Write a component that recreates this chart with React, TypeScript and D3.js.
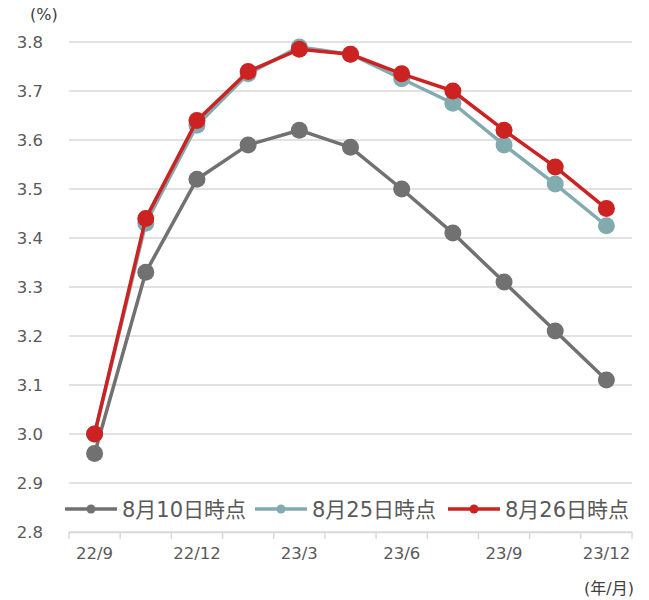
import React, { useEffect, useRef } from "react";
import * as d3 from "d3";

// 政策会合ごとの予想金利 (%)
const months = ["22/9", "22/11", "22/12", "23/2", "23/3", "23/5", "23/6", "23/7", "23/9", "23/11", "23/12"];
const shownLabels = ["22/9", "22/12", "23/3", "23/6", "23/9", "23/12"];
const seriesNames = ["8月10日時点", "8月25日時点", "8月26日時点"];
const aug10 = [2.96, 3.33, 3.52, 3.59, 3.62, 3.585, 3.50, 3.41, 3.31, 3.21, 3.11];
const aug25 = [3.00, 3.43, 3.63, 3.735, 3.79, 3.775, 3.725, 3.675, 3.59, 3.51, 3.425];
const aug26 = [3.00, 3.44, 3.64, 3.74, 3.785, 3.775, 3.735, 3.70, 3.62, 3.545, 3.46];
const yTicks = [2.8, 2.9, 3.0, 3.1, 3.2, 3.3, 3.4, 3.5, 3.6, 3.7, 3.8];
const colors = ["#717171", "#82abb0", "#cc2222"];

const FONT = "'DejaVu Sans', 'Noto Sans CJK JP', sans-serif";

const App = () => {
  const ref = useRef<SVGSVGElement>(null);

  useEffect(() => {
    const width = 649;
    const height = 600;
    const margin = { top: 42, left: 69, bottom: 68, right: 17 };

    const svg = d3.select(ref.current);
    svg.selectAll("*").remove();
    svg.attr("width", width).attr("height", height);

    const x = d3
      .scaleBand()
      .domain(months)
      .range([margin.left, width - margin.right]);

    const y = d3
      .scaleLinear()
      .domain([2.8, 3.8])
      .range([height - margin.bottom, margin.top]);

    // 横グリッド
    svg
      .append("g")
      .selectAll("line")
      .data(yTicks)
      .enter()
      .append("line")
      .attr("x1", margin.left)
      .attr("x2", width - margin.right)
      .attr("y1", (d) => y(d))
      .attr("y2", (d) => y(d))
      .attr("stroke", "#d9d9d9")
      .attr("stroke-width", 1.5);

    // y軸ラベル
    svg
      .append("g")
      .selectAll("text")
      .data(yTicks)
      .enter()
      .append("text")
      .attr("x", 43)
      .attr("y", (d) => y(d))
      .attr("dy", "0.36em")
      .attr("text-anchor", "end")
      .attr("font-family", FONT)
      .attr("font-size", 16.5)
      .attr("fill", "#595959")
      .text((d) => d.toFixed(1));

    // x軸
    const xAxis = (g: any) =>
      g
        .attr("transform", `translate(0, ${y(2.8)})`)
        .call(
          d3
            .axisBottom(x)
            .tickValues(shownLabels)
            .tickSize(0)
            .tickPadding(15)
        )
        .call((g: any) => g.select(".domain").attr("stroke", "#d9d9d9").attr("stroke-width", 1.5))
        .call((g: any) =>
          g
            .selectAll("text")
            .attr("font-family", FONT)
            .attr("font-size", 16.5)
            .attr("fill", "#595959")
        );
    svg.append("g").call(xAxis);

    // 区切りの目盛り
    const bounds = months.map((m) => x(m) as number).concat([width - margin.right]);
    svg
      .append("g")
      .selectAll("line")
      .data(bounds)
      .enter()
      .append("line")
      .attr("x1", (d) => d)
      .attr("x2", (d) => d)
      .attr("y1", y(2.8))
      .attr("y2", y(2.8) + 7)
      .attr("stroke", "#d9d9d9")
      .attr("stroke-width", 1.5);

    // 折れ線
    const allSeries = [aug10, aug25, aug26];
    const line = d3
      .line<number>()
      .x((d, i) => (x(months[i]) as number) + x.bandwidth() / 2)
      .y((d) => y(d));

    allSeries.forEach((values, k) => {
      const g = svg.append("g");
      g.append("path")
        .attr("d", line(values))
        .attr("fill", "none")
        .attr("stroke", colors[k])
        .attr("stroke-width", 3.5)
        .attr("stroke-linejoin", "round");
      g.selectAll("circle")
        .data(values)
        .enter()
        .append("circle")
        .attr("cx", (d, i) => (x(months[i]) as number) + x.bandwidth() / 2)
        .attr("cy", (d) => y(d))
        .attr("r", 8.5)
        .attr("fill", colors[k]);
    });

    // 凡例
    const legendX = [65, 255, 448];
    const legend = svg
      .append("g")
      .selectAll("g")
      .data(seriesNames)
      .enter()
      .append("g")
      .attr("transform", (d, i) => `translate(${legendX[i]}, 509)`);
    legend
      .append("line")
      .attr("x1", 0)
      .attr("x2", 52)
      .attr("stroke", (d, i) => colors[i])
      .attr("stroke-width", 3.5);
    legend
      .append("circle")
      .attr("cx", 26)
      .attr("r", 4.5)
      .attr("fill", (d, i) => colors[i]);
    legend
      .append("text")
      .attr("x", 57)
      .attr("dy", "0.36em")
      .attr("font-family", FONT)
      .attr("font-size", 21)
      .attr("fill", "#595959")
      .text((d) => d);

    // 単位
    svg
      .append("text")
      .attr("x", 30)
      .attr("y", 20)
      .attr("font-family", FONT)
      .attr("font-size", 16)
      .attr("fill", "#404040")
      .text("(%)");
    svg
      .append("text")
      .attr("x", 634)
      .attr("y", 594)
      .attr("text-anchor", "end")
      .attr("font-family", FONT)
      .attr("font-size", 16)
      .attr("fill", "#404040")
      .text("(年/月)");
  }, []);

  return (
    <div>
      <svg ref={ref} style={{ position: "absolute", left: 0, top: 0 }} />
    </div>
  );
};

export default App;
